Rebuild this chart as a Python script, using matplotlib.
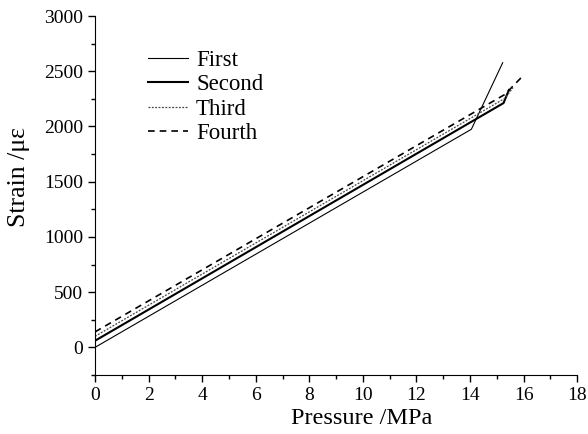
import matplotlib
matplotlib.use("Agg")
import matplotlib.pyplot as plt
from matplotlib.ticker import MultipleLocator

plt.rcParams['font.family'] = ['Liberation Serif', 'DejaVu Serif']

# pressure (MPa) / strain (microstrain)
first_x = [0, 14.05, 15.22]
first_y = [0, 1975, 2578]
second_x = [0, 15.25, 15.45]
second_y = [60, 2212, 2330]
third_x = [0, 15.3, 15.6]
third_y = [100, 2255, 2350]
fourth_x = [0, 15.3, 15.9]
fourth_y = [140, 2290, 2440]

fig = plt.figure(figsize=(5.88, 4.34), dpi=100)
ax = fig.add_axes([0.1616, 0.136, 0.82, 0.827])

ax.plot(first_x, first_y, color='black', lw=0.8, label='First')
ax.plot(second_x, second_y, color='black', lw=1.5, label='Second')
ax.plot(third_x, third_y, color='#444444', lw=0.9, ls=(0, (1.5, 1.2)), label='Third')
ax.plot(fourth_x, fourth_y, color='black', lw=1.2, ls=(0, (4, 3)), label='Fourth')

ax.set_xlim(0, 18)
ax.set_ylim(-250, 3000)
ax.xaxis.set_major_locator(MultipleLocator(2))
ax.xaxis.set_minor_locator(MultipleLocator(1))
ax.yaxis.set_major_locator(MultipleLocator(500))
ax.yaxis.set_minor_locator(MultipleLocator(250))
ax.tick_params(which='both', direction='out', labelsize=14, width=1)
ax.tick_params(which='major', length=5)
ax.tick_params(which='minor', length=3)
for s in ['top', 'right']:
    ax.spines[s].set_visible(False)

ax.set_xlabel('Pressure /MPa', fontsize=17.5)
ax.set_ylabel('Strain /\u03bc\u03b5', fontsize=18.5)
ax.xaxis.set_label_coords(0.554, -0.092)
ax.yaxis.set_label_coords(-0.135, 0.552)

ax.legend(loc='upper left', bbox_to_anchor=(0.067, 0.964), frameon=False, fontsize=16.5,
          handlelength=1.75, handletextpad=0.35, labelspacing=0.15)

fig.savefig('out.png', dpi=100)
